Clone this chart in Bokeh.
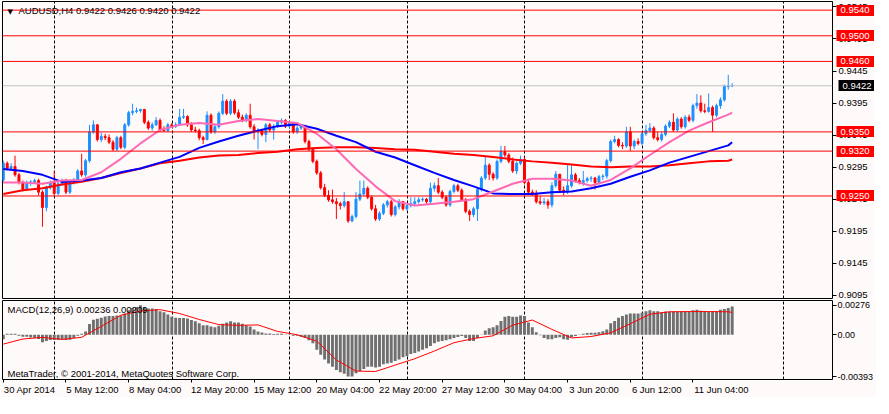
from bokeh.plotting import figure
from bokeh.models import Range1d, FixedTicker, LinearAxis, Span, Label, ColumnDataSource, PrintfTickFormatter
from bokeh.layouts import column
from bokeh.embed import file_html
from bokeh.resources import INLINE

# ---------------- data (AUDUSD H4) ----------------
first_open = 0.9275
close = [
    0.9301, 0.9293, 0.9296, 0.9283, 0.9271, 0.9260, 0.9271, 0.9272, 0.9274, 0.9256,
    0.9232, 0.9263, 0.9271, 0.9254, 0.9269, 0.9274, 0.9256, 0.9271, 0.9275, 0.9289,
    0.9283, 0.9305, 0.9350, 0.9361, 0.9338, 0.9343, 0.9341, 0.9334, 0.9323, 0.9341,
    0.9326, 0.9361, 0.9380, 0.9382, 0.9383, 0.9385, 0.9365, 0.9356, 0.9361, 0.9368,
    0.9353, 0.9352, 0.9361, 0.9359, 0.9361, 0.9373, 0.9374, 0.9361, 0.9353, 0.9352,
    0.9341, 0.9338, 0.9376, 0.9350, 0.9358, 0.9379, 0.9398, 0.9379, 0.9398, 0.9380,
    0.9373, 0.9368, 0.9376, 0.9358, 0.9350, 0.9353, 0.9346, 0.9361, 0.9353, 0.9359,
    0.9365, 0.9368, 0.9359, 0.9364, 0.9350, 0.9356, 0.9359, 0.9335, 0.9323, 0.9304,
    0.9286, 0.9263, 0.9251, 0.9244, 0.9241, 0.9238, 0.9235, 0.9241, 0.9211, 0.9218,
    0.9245, 0.9253, 0.9262, 0.9248, 0.9230, 0.9214, 0.9223, 0.9236, 0.9241, 0.9221,
    0.9233, 0.9241, 0.9230, 0.9235, 0.9238, 0.9241, 0.9244, 0.9245, 0.9241, 0.9262,
    0.9266, 0.9256, 0.9248, 0.9236, 0.9257, 0.9266, 0.9259, 0.9244, 0.9226, 0.9221,
    0.9230, 0.9260, 0.9278, 0.9298, 0.9284, 0.9278, 0.9304, 0.9319, 0.9314, 0.9304,
    0.9289, 0.9301, 0.9307, 0.9271, 0.9256, 0.9254, 0.9241, 0.9239, 0.9241, 0.9236,
    0.9266, 0.9284, 0.9259, 0.9256, 0.9266, 0.9283, 0.9274, 0.9271, 0.9274, 0.9277,
    0.9278, 0.9271, 0.9280, 0.9281, 0.9305, 0.9335, 0.9338, 0.9329, 0.9328, 0.9350,
    0.9328, 0.9335, 0.9332, 0.9347, 0.9352, 0.9356, 0.9341, 0.9338, 0.9346, 0.9359,
    0.9365, 0.9353, 0.9370, 0.9358, 0.9373, 0.9368, 0.9391, 0.9395, 0.9383, 0.9382,
    0.9388, 0.9376, 0.9391, 0.9400, 0.9421, 0.9422, 0.9422,
]
high = [
    0.9305, 0.9304, 0.9301, 0.9313, 0.9286, 0.9274, 0.9274, 0.9275, 0.9277, 0.9277,
    0.9259, 0.9266, 0.9274, 0.9289, 0.9272, 0.9277, 0.9277, 0.9274, 0.9278, 0.9292,
    0.9316, 0.9308, 0.9361, 0.9368, 0.9362, 0.9349, 0.9347, 0.9346, 0.9337, 0.9344,
    0.9344, 0.9364, 0.9383, 0.9394, 0.9388, 0.9386, 0.9386, 0.9368, 0.9365, 0.9373,
    0.9371, 0.9359, 0.9364, 0.9364, 0.9365, 0.9386, 0.9386, 0.9376, 0.9365, 0.9358,
    0.9355, 0.9344, 0.9382, 0.9379, 0.9361, 0.9382, 0.9409, 0.9401, 0.9401, 0.9401,
    0.9385, 0.9377, 0.9379, 0.9394, 0.9362, 0.9356, 0.9355, 0.9364, 0.9364, 0.9362,
    0.9368, 0.9371, 0.9370, 0.9367, 0.9365, 0.9359, 0.9362, 0.9361, 0.9338, 0.9326,
    0.9307, 0.9289, 0.9269, 0.9259, 0.9260, 0.9247, 0.9241, 0.9256, 0.9242, 0.9221,
    0.9256, 0.9274, 0.9274, 0.9265, 0.9251, 0.9236, 0.9226, 0.9239, 0.9244, 0.9244,
    0.9236, 0.9245, 0.9242, 0.9238, 0.9248, 0.9248, 0.9248, 0.9248, 0.9247, 0.9271,
    0.9271, 0.9278, 0.9259, 0.9251, 0.9260, 0.9269, 0.9269, 0.9262, 0.9247, 0.9229,
    0.9233, 0.9263, 0.9281, 0.9313, 0.9301, 0.9287, 0.9307, 0.9328, 0.9328, 0.9317,
    0.9310, 0.9304, 0.9313, 0.9310, 0.9277, 0.9260, 0.9259, 0.9250, 0.9247, 0.9245,
    0.9271, 0.9289, 0.9281, 0.9265, 0.9298, 0.9298, 0.9286, 0.9278, 0.9289, 0.9280,
    0.9281, 0.9280, 0.9283, 0.9284, 0.9308, 0.9338, 0.9344, 0.9340, 0.9334, 0.9358,
    0.9358, 0.9338, 0.9340, 0.9350, 0.9361, 0.9364, 0.9359, 0.9350, 0.9350, 0.9362,
    0.9368, 0.9379, 0.9373, 0.9373, 0.9376, 0.9377, 0.9394, 0.9409, 0.9407, 0.9394,
    0.9410, 0.9391, 0.9394, 0.9404, 0.9424, 0.9439, 0.9426,
]
low = [
    0.9271, 0.9290, 0.9290, 0.9280, 0.9268, 0.9257, 0.9259, 0.9266, 0.9269, 0.9251,
    0.9202, 0.9226, 0.9260, 0.9251, 0.9251, 0.9266, 0.9253, 0.9253, 0.9268, 0.9272,
    0.9280, 0.9280, 0.9302, 0.9347, 0.9335, 0.9334, 0.9337, 0.9331, 0.9320, 0.9320,
    0.9323, 0.9323, 0.9358, 0.9376, 0.9379, 0.9380, 0.9362, 0.9353, 0.9352, 0.9359,
    0.9350, 0.9350, 0.9350, 0.9356, 0.9356, 0.9359, 0.9370, 0.9358, 0.9350, 0.9349,
    0.9337, 0.9331, 0.9337, 0.9347, 0.9347, 0.9355, 0.9376, 0.9376, 0.9376, 0.9377,
    0.9370, 0.9365, 0.9365, 0.9355, 0.9338, 0.9323, 0.9343, 0.9334, 0.9350, 0.9338,
    0.9356, 0.9362, 0.9356, 0.9356, 0.9347, 0.9347, 0.9353, 0.9332, 0.9320, 0.9301,
    0.9283, 0.9260, 0.9248, 0.9241, 0.9238, 0.9214, 0.9229, 0.9232, 0.9208, 0.9209,
    0.9215, 0.9242, 0.9250, 0.9245, 0.9227, 0.9211, 0.9211, 0.9220, 0.9232, 0.9218,
    0.9218, 0.9229, 0.9227, 0.9227, 0.9232, 0.9235, 0.9238, 0.9241, 0.9238, 0.9238,
    0.9257, 0.9253, 0.9245, 0.9233, 0.9233, 0.9254, 0.9256, 0.9241, 0.9223, 0.9211,
    0.9217, 0.9211, 0.9257, 0.9275, 0.9275, 0.9274, 0.9275, 0.9301, 0.9311, 0.9301,
    0.9286, 0.9284, 0.9298, 0.9268, 0.9253, 0.9250, 0.9238, 0.9236, 0.9236, 0.9230,
    0.9232, 0.9263, 0.9256, 0.9251, 0.9253, 0.9263, 0.9271, 0.9268, 0.9266, 0.9271,
    0.9272, 0.9260, 0.9268, 0.9275, 0.9277, 0.9302, 0.9332, 0.9326, 0.9323, 0.9325,
    0.9320, 0.9323, 0.9329, 0.9329, 0.9344, 0.9349, 0.9338, 0.9335, 0.9335, 0.9343,
    0.9356, 0.9350, 0.9350, 0.9355, 0.9355, 0.9365, 0.9365, 0.9386, 0.9380, 0.9379,
    0.9380, 0.9350, 0.9373, 0.9386, 0.9397, 0.9416, 0.9420,
]

# moving averages, read every 5 bars
ma_idx = list(range(0, 186, 5)) + [186]
ma_pink = [0.9271, 0.9271, 0.9269, 0.9274, 0.9275, 0.9287, 0.9308, 0.9332, 0.9353, 0.9361,
           0.9364, 0.9361, 0.9367, 0.9370, 0.9367, 0.9364, 0.9347, 0.9323, 0.9292, 0.9265,
           0.9242, 0.9235, 0.9238, 0.9241, 0.9245, 0.9257, 0.9269, 0.9277, 0.9277, 0.9274,
           0.9266, 0.9275, 0.9293, 0.9314, 0.9334, 0.9352, 0.9365, 0.9377, 0.9380]
ma_blue = [0.9292, 0.9289, 0.9283, 0.9272, 0.9274, 0.9278, 0.9287, 0.9293, 0.9302, 0.9311,
           0.9325, 0.9335, 0.9344, 0.9352, 0.9359, 0.9362, 0.9355, 0.9344, 0.9334, 0.9319,
           0.9310, 0.9298, 0.9286, 0.9275, 0.9265, 0.9254, 0.9253, 0.9253, 0.9256, 0.9257,
           0.9262, 0.9269, 0.9280, 0.9290, 0.9302, 0.9311, 0.9320, 0.9329, 0.9334]
ma_red = [0.9253, 0.9259, 0.9262, 0.9268, 0.9272, 0.9278, 0.9286, 0.9293, 0.9301, 0.9305,
          0.9310, 0.9313, 0.9314, 0.9317, 0.9319, 0.9323, 0.9325, 0.9326, 0.9326, 0.9325,
          0.9323, 0.9322, 0.9319, 0.9316, 0.9314, 0.9311, 0.9307, 0.9304, 0.9302, 0.9299,
          0.9296, 0.9295, 0.9296, 0.9296, 0.9298, 0.9301, 0.9304, 0.9305, 0.9307]

# MACD(12,26,9) histogram (main line) per bar
macd = [
    -0.00042, 0.00010, 0.00010, 0.00008, -0.00010, -0.00020, -0.00020, -0.00025, -0.00030, -0.00040,
    -0.00070, -0.00060, -0.00050, -0.00050, -0.00050, -0.00045, -0.00050, -0.00048, -0.00030, -0.00010,
    0.00010, 0.00030, 0.00100, 0.00140, 0.00150, 0.00160, 0.00170, 0.00175, 0.00175, 0.00180,
    0.00180, 0.00200, 0.00229, 0.00250, 0.00259, 0.00276, 0.00259, 0.00247, 0.00247, 0.00241,
    0.00220, 0.00211, 0.00190, 0.00169, 0.00160, 0.00157, 0.00157, 0.00151, 0.00139, 0.00127,
    0.00108, 0.00090, 0.00090, 0.00078, 0.00069, 0.00084, 0.00102, 0.00114, 0.00126, 0.00114,
    0.00114, 0.00102, 0.00090, 0.00078, 0.00048, 0.00030, 0.00021, 0.00012, 0.00012, 0.00006,
    0.00009, 0.00009, 0.00003, 0.00002, -0.00009, -0.00009, -0.00018, -0.00030, -0.00051, -0.00081,
    -0.00141, -0.00187, -0.00232, -0.00271, -0.00301, -0.00331, -0.00352, -0.00367, -0.00391, -0.00393,
    -0.00361, -0.00343, -0.00322,
    -0.00301, -0.00301, -0.00307, -0.00301, -0.00277, -0.00271, -0.00262, -0.00247, -0.00232, -0.00211,
    -0.00202, -0.00181, -0.00172, -0.00157, -0.00141, -0.00126, -0.00105, -0.00081, -0.00066, -0.00060,
    -0.00051, -0.00042, -0.00030, -0.00021, -0.00012, -0.00030, -0.00060, -0.00060, -0.00030, 0.00003,
    0.00039, 0.00060, 0.00069, 0.00090, 0.00129, 0.00169, 0.00175, 0.00169, 0.00169, 0.00181,
    0.00175, 0.00114, 0.00069, 0.00024, -0.00006, -0.00030, -0.00042, -0.00042, -0.00030, -0.00024,
    -0.00042, -0.00048, -0.00021, -0.00012, -0.00003, 0.00009, 0.00015, 0.00018, 0.00018, 0.00024,
    0.00033, 0.00048, 0.00108, 0.00129, 0.00160, 0.00175, 0.00190, 0.00199, 0.00199, 0.00199,
    0.00205, 0.00220, 0.00229, 0.00220, 0.00220, 0.00211,
    0.00217, 0.00217, 0.00217, 0.00217, 0.00217, 0.00217, 0.00217,
    0.00229, 0.00235, 0.00226, 0.00220, 0.00217, 0.00217, 0.00217, 0.00235, 0.00241, 0.00250, 0.00265,
]
sig_idx = list(range(0, 186, 5)) + [186]
signal = [-0.00088, -0.00040, -0.00025, -0.00044, -0.00024, 0.00078, 0.00183, 0.00222, 0.00235, 0.00199,
          0.00143, 0.00095, 0.00088, 0.00092, 0.00031, 0.00000, -0.00060, -0.00237, -0.00341, -0.00345,
          -0.00285, -0.00225, -0.00153, -0.00075, -0.00036, -0.00010, 0.00090, 0.00138, 0.00050, -0.00030,
          -0.00017, 0.00018, 0.00103, 0.00192, 0.00215, 0.00217, 0.00217, 0.00215, 0.00209]

levels = [0.9540, 0.9500, 0.9460, 0.9350, 0.9320, 0.9250]
bid = 0.9422
price_ticks = [0.9095, 0.9145, 0.9195, 0.9245, 0.9295, 0.9345, 0.9395, 0.9445, 0.9495, 0.9545]
macd_ticks = [0.00276, 0.0, -0.00393]
date_idx = [0, 16, 32, 48, 64, 80, 96, 112, 128, 144, 160, 176]
date_labels = ["30 Apr 2014", "5 May 12:00", "8 May 04:00", "12 May 20:00", "15 May 12:00",
               "20 May 04:00", "22 May 20:00", "27 May 12:00", "30 May 04:00", "3 Jun 20:00",
               "6 Jun 12:00", "11 Jun 04:00"]
week_grid = [13.1, 43.1, 73.1, 103.1, 133.1, 163.1, 199.1]

# ---------------- styling ----------------
BG = "#FFFAFA"
BULL = "#1E90FF"
BEAR = "#FF0000"
FONT = "Liberation Sans"
FS = "9.5px"
FW = 830
FH1 = 297
FH2 = 79
AXW = 35   # approx width of the plain price axis (tick + standoff + label)

n = len(close)
idx = list(range(n))
opens = [first_open] + close[:-1]
tops = [max(o, c) for o, c in zip(opens, close)]
bots = [min(o, c) for o, c in zip(opens, close)]
hi = [max(h, t) for h, t in zip(high, tops)]
lo = [min(l, b) for l, b in zip(low, bots)]
cols = [BULL if c >= o else BEAR for o, c in zip(opens, close)]
src = ColumnDataSource(dict(x=idx, top=tops, bot=bots, hi=hi, lo=lo, col=cols))

xr = Range1d(-0.2, 211.6)

p1 = figure(frame_width=FW, frame_height=FH1, x_range=xr, y_range=Range1d(0.90900, 0.95535),
            x_axis_location=None, y_axis_location="right", toolbar_location=None,
            output_backend="svg", min_border_left=2, min_border_right=41,
            min_border_top=1, min_border_bottom=1,
            background_fill_color=BG, border_fill_color=BG,
            outline_line_color="black", outline_line_width=1)
p1.ygrid.visible = False
p1.xgrid.ticker = FixedTicker(ticks=week_grid)
p1.xgrid.grid_line_color = "black"
p1.xgrid.grid_line_dash = "3 2"
p1.xgrid.grid_line_width = 1

ya = p1.yaxis[0]
ya.ticker = FixedTicker(ticks=price_ticks)
ya.formatter = PrintfTickFormatter(format="%.4f")
ya.axis_line_color = None
ya.major_tick_in = 0
ya.major_tick_out = 4
ya.major_tick_line_color = "black"
ya.minor_tick_line_color = None
ya.major_label_standoff = 2
ya.major_label_text_font = FONT
ya.major_label_text_font_size = FS
ya.major_label_text_color = "black"


def tag_axis(ticks, color):
    # thick tick marks form the coloured price tags, labels are drawn back over them
    return LinearAxis(ticker=FixedTicker(ticks=ticks),
                      formatter=PrintfTickFormatter(format="%.4f"),
                      axis_line_color=None, minor_tick_line_color=None,
                      major_tick_in=AXW - 1, major_tick_out=4,
                      major_tick_line_color=color, major_tick_line_width=11,
                      major_tick_line_cap="butt",
                      major_label_standoff=5 - AXW - 4,
                      major_label_text_font=FONT, major_label_text_font_size=FS,
                      major_label_text_color="white")


p1.segment(x0="x", y0="lo", x1="x", y1="hi", source=src, line_color="col", line_width=1)
p1.vbar(x="x", top="top", bottom="bot", width=0.5, source=src,
        fill_color="col", line_color="col", line_width=1)

p1.line(ma_idx, ma_red, line_color="#FF0000", line_width=2)
p1.line(ma_idx, ma_blue, line_color="#0000FF", line_width=2)
p1.line(ma_idx, ma_pink, line_color="#FF69B4", line_width=2)

for lv in levels:
    p1.add_layout(Span(location=lv, dimension="width", line_color="red", line_width=1))
p1.add_layout(Span(location=bid, dimension="width", line_color="#C0C0C0", line_width=1))

p1.add_layout(tag_axis(levels, "red"), "right")
p1.add_layout(tag_axis([bid], "black"), "right")

p1.add_layout(Label(x=5, y=FH1 - 10, x_units="screen", y_units="screen", text="▼",
                    text_font="DejaVu Sans", text_font_size="7px", text_color="black",
                    text_baseline="middle"))
p1.add_layout(Label(x=16, y=FH1 - 9, x_units="screen", y_units="screen",
                    text="AUDUSD,H4  0.9422 0.9426 0.9420 0.9422",
                    text_font=FONT, text_font_size=FS, text_color="black",
                    text_baseline="middle"))

# ---------------- MACD panel ----------------
p2 = figure(frame_width=FW, frame_height=FH2, x_range=xr, y_range=Range1d(-0.00420, 0.00321),
            x_axis_location=None, y_axis_location="right", toolbar_location=None,
            output_backend="svg", min_border_left=2, min_border_right=41,
            min_border_top=1, min_border_bottom=0,
            background_fill_color=BG, border_fill_color=BG,
            outline_line_color="black", outline_line_width=1)
p2.ygrid.visible = False
p2.xgrid.ticker = FixedTicker(ticks=week_grid)
p2.xgrid.grid_line_color = "black"
p2.xgrid.grid_line_dash = "3 2"

ya2 = p2.yaxis[0]
ya2.ticker = FixedTicker(ticks=macd_ticks)
ya2.formatter = PrintfTickFormatter(format="%.5f")
ya2.major_label_overrides = {0: "0.00"}
ya2.axis_line_color = None
ya2.major_tick_in = 0
ya2.major_tick_out = 4
ya2.minor_tick_line_color = None
ya2.major_label_standoff = 1
ya2.major_label_text_font = FONT
ya2.major_label_text_font_size = "9px"
ya2.major_label_text_color = "black"

p2.vbar(x=idx, top=macd, bottom=0, width=0.75, fill_color="#707070", line_color=None)
p2.line(sig_idx, signal, line_color="#FF0000", line_width=1)

# date axis: tick marks + left-aligned labels
tick_axis = LinearAxis(ticker=FixedTicker(ticks=date_idx), axis_line_color=None,
                       major_tick_in=0, major_tick_out=3, minor_tick_line_color=None,
                       major_label_text_font_size="1px", major_label_text_alpha=0,
                       major_label_standoff=0)
offs = [round((len(s) * 2.3 + 1) / (FW / 211.8) * 4) / 4 for s in date_labels]
lab_pos = [d + o for d, o in zip(date_idx, offs)]
lab_axis = LinearAxis(ticker=FixedTicker(ticks=lab_pos), axis_line_color=None,
                      major_tick_in=0, major_tick_out=0, minor_tick_line_color=None,
                      major_label_overrides={pos: s for pos, s in zip(lab_pos, date_labels)},
                      major_label_standoff=1, major_label_text_font=FONT,
                      major_label_text_font_size=FS, major_label_text_color="black")
p2.add_layout(tick_axis, "below")
p2.add_layout(lab_axis, "below")

p2.add_layout(Label(x=5, y=FH2 - 9, x_units="screen", y_units="screen",
                    text="MACD(12,26,9) 0.00236 0.00209",
                    text_font=FONT, text_font_size=FS, text_color="black",
                    text_baseline="middle"))
p2.add_layout(Label(x=5, y=6, x_units="screen", y_units="screen",
                    text="MetaTrader, © 2001-2014, MetaQuotes Software Corp.",
                    text_font=FONT, text_font_size=FS, text_color="black",
                    text_baseline="middle"))

layout = column(p1, p2, spacing=0)
open("out.html", "w").write(file_html(layout, INLINE))
